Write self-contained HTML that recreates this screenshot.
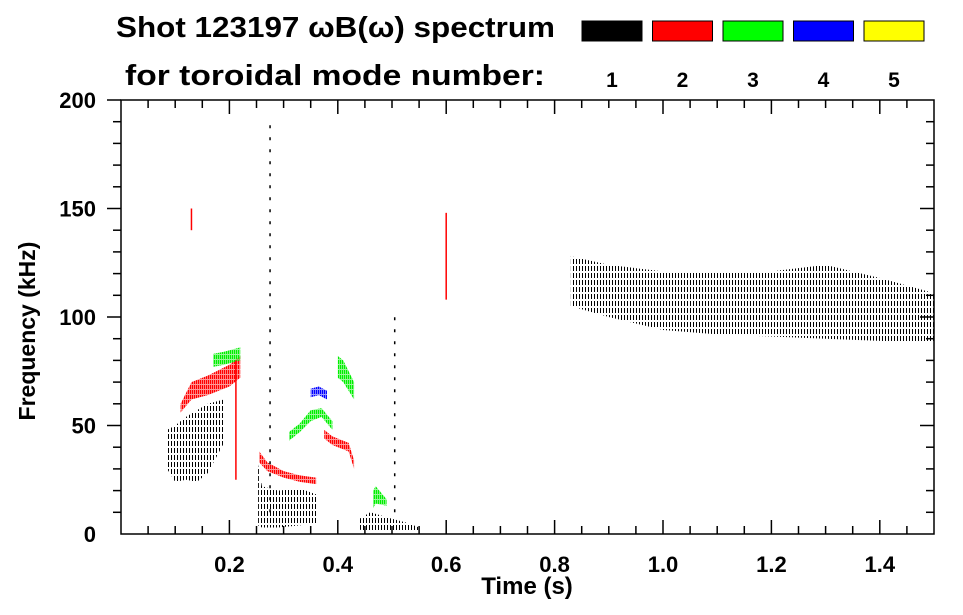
<!DOCTYPE html>
<html><head><meta charset="utf-8"><style>
html,body{margin:0;padding:0;background:#fff;}
svg{display:block;font-family:"Liberation Sans",sans-serif;font-weight:bold;}
</style></head><body>
<svg id="chart" width="963" height="615" viewBox="0 0 963 615">
<defs>
<pattern id="pk" width="3" height="7" patternUnits="userSpaceOnUse"><rect x="0" y="0" width="1" height="5" fill="#000"/></pattern>
<pattern id="pr" width="2" height="5" patternUnits="userSpaceOnUse"><rect width="2" height="5" fill="#f00" fill-opacity="0.4"/><rect width="1.2" height="4" fill="#f00"/></pattern>
<pattern id="pg" width="2" height="5" patternUnits="userSpaceOnUse"><rect width="2" height="5" fill="#0e0" fill-opacity="0.4"/><rect width="1.2" height="4" fill="#0e0"/></pattern>
<pattern id="pb" width="2" height="5" patternUnits="userSpaceOnUse"><rect width="2" height="5" fill="#00f" fill-opacity="0.4"/><rect width="1.2" height="4" fill="#00f"/></pattern>
</defs>
<g>
<text x="116" y="37" font-size="29" textLength="439" lengthAdjust="spacingAndGlyphs">Shot 123197 ωB(ω) spectrum</text>
<text x="125" y="85" font-size="29" textLength="420" lengthAdjust="spacingAndGlyphs">for toroidal mode number:</text>
</g>
<g id="legend"></g>
<g id="marks"></g>
<g id="axes"></g>
<text x="527" y="594" font-size="24" text-anchor="middle">Time (s)</text>
<text transform="translate(35,331) rotate(-90)" font-size="23" text-anchor="middle">Frequency (kHz)</text>
</svg>
<script>
const modeLabels=["1","2","3","4","5"];
const modeColors=["#000000","#ff0000","#00ff00","#0000ff","#ffff00"];
const xTicks=[0.2,0.4,0.6,0.8,1.0,1.2,1.4];
const yTicks=[0,50,100,150,200];
// bands: time, low freq, high freq (kHz)
const k1t=[0.085,0.1,0.12,0.14,0.16,0.19];
const k1lo=[30,24,25,24,28,42];
const k1hi=[48,50,54,57,60,62];
const k2t=[0.253,0.26,0.29,0.33,0.363];
const k2lo=[4,3,3,4,5];
const k2hi=[32,22,20,21,18];
const k3t=[0.44,0.46,0.5,0.53,0.55];
const k3lo=[2,1,1,1,1];
const k3hi=[7,10,7,5,3];
const k4t=[0.83,0.9,1.0,1.1,1.2,1.3,1.4,1.5];
const k4lo=[105,100,94,92,91,90,89,88];
const k4hi=[128,124,121,121,121,124,118,111];
const r1t=[0.11,0.13,0.16,0.2,0.22];
const r1lo=[56,62,64,68,72];
const r1hi=[60,70,73,78,82];
const r2t=[0.255,0.27,0.3,0.33,0.36];
const r2lo=[33,29,26,24,23];
const r2hi=[38,33,29,27,26];
const r3t=[0.375,0.39,0.42,0.43];
const r3lo=[44,41,38,30];
const r3hi=[48,45,42,34];
const g1t=[0.17,0.19,0.22];
const g1lo=[77,78,80];
const g1hi=[83,84,86];
const g2t=[0.31,0.33,0.35,0.37,0.39];
const g2lo=[43,47,52,54,48];
const g2hi=[47,51,57,58,52];
const g3t=[0.4,0.41,0.43];
const g3lo=[72,70,62];
const g3hi=[82,80,70];
const g4t=[0.465,0.47,0.49];
const g4lo=[12,14,13];
const g4hi=[20,22,16];
const b1t=[0.35,0.365,0.38];
const b1lo=[63,64,62];
const b1hi=[67,68,66];
const lineT=[0.13,0.212,0.6,0.275,0.505];
const lineLo=[140,25,108,10,10];
const lineHi=[150,80,148,190,100];
const lineCol=["#f00","#f00","#f00","#000","#000"];

const NS="http://www.w3.org/2000/svg";
const X0=121,X1=934,Y0=534,Y1=100,TMAX=1.5,FMAX=200;
const xs=t=>X0+t/TMAX*(X1-X0);
const ys=f=>Y0-f/FMAX*(Y0-Y1);
function mk(tag,at,parent){const e=document.createElementNS(NS,tag);for(const k in at)e.setAttribute(k,at[k]);parent.appendChild(e);return e;}

const lg=document.getElementById('legend');
modeLabels.forEach((m,i)=>{
  const r=mk('rect',{x:582+i*70.5,y:21,width:60,height:20,fill:modeColors[i],stroke:'#000','stroke-width':1},lg);
  
  
  const t=mk('text',{x:612+i*70.5,y:87,'font-size':21,'text-anchor':'middle'},lg);
  t.textContent=m;
  
  
});

const marks=document.getElementById('marks');
function band(t,lo,hi,fill,name){
  let pts=t.map((v,i)=>xs(v)+','+ys(hi[i]));
  for(let i=t.length-1;i>=0;i--)pts.push(xs(t[i])+','+ys(lo[i]));
  const p=mk('polygon',{points:pts.join(' '),fill:fill},marks);
  
  
}
band(k4t,k4lo,k4hi,'url(#pk)','mode1-band-high');
band(k1t,k1lo,k1hi,'url(#pk)','mode1-band-early');
band(k2t,k2lo,k2hi,'url(#pk)','mode1-band-mid');
band(k3t,k3lo,k3hi,'url(#pk)','mode1-band-late');
band(r1t,r1lo,r1hi,'url(#pr)','mode2-band-early');
band(r2t,r2lo,r2hi,'url(#pr)','mode2-band-mid');
band(r3t,r3lo,r3hi,'url(#pr)','mode2-band-late');
band(g1t,g1lo,g1hi,'url(#pg)','mode3-band-early');
band(g2t,g2lo,g2hi,'url(#pg)','mode3-band-mid');
band(g3t,g3lo,g3hi,'url(#pg)','mode3-band-upper');
band(g4t,g4lo,g4hi,'url(#pg)','mode3-band-late');
band(b1t,b1lo,b1hi,'url(#pb)','mode4-band');
lineT.forEach((t,i)=>{
  const l=mk('line',{x1:xs(t),x2:xs(t),y1:ys(lineLo[i]),y2:ys(lineHi[i]),stroke:lineCol[i],'stroke-width':1.5,'stroke-dasharray':i<3?'none':'3 9'},marks);
  
  
});

const ax=document.getElementById('axes');
mk('rect',{x:X0,y:Y1,width:X1-X0,height:Y0-Y1,fill:'none',stroke:'#000','stroke-width':1.5},ax);
for(let i=1;i<30;i++){const t=i*0.05,x=xs(t),L=(i%4===0)?14:8;
  mk('line',{x1:x,x2:x,y1:Y0,y2:Y0-L,stroke:'#000','stroke-width':1.5},ax);
  mk('line',{x1:x,x2:x,y1:Y1,y2:Y1+L,stroke:'#000','stroke-width':1.5},ax);}
for(let i=1;i<20;i++){const y=ys(i*10),L=(i%5===0)?14:8;
  mk('line',{x1:X0,x2:X0-L,y1:y,y2:y,stroke:'#000','stroke-width':1.5},ax);
  mk('line',{x1:X1,x2:X1-L,y1:y,y2:y,stroke:'#000','stroke-width':1.5},ax);}
mk('line',{x1:X0-14,x2:X0,y1:Y1,y2:Y1,stroke:'#000','stroke-width':1.5},ax);
xTicks.forEach(t=>{const e=mk('text',{x:xs(t),y:572,'font-size':22,'text-anchor':'middle'},ax);e.textContent=t.toFixed(1);
  
  });
yTicks.forEach(f=>{const e=mk('text',{x:96,y:ys(f)+8,'font-size':22,'text-anchor':'end'},ax);e.textContent=f;
  
  });
</script>
</body></html>
